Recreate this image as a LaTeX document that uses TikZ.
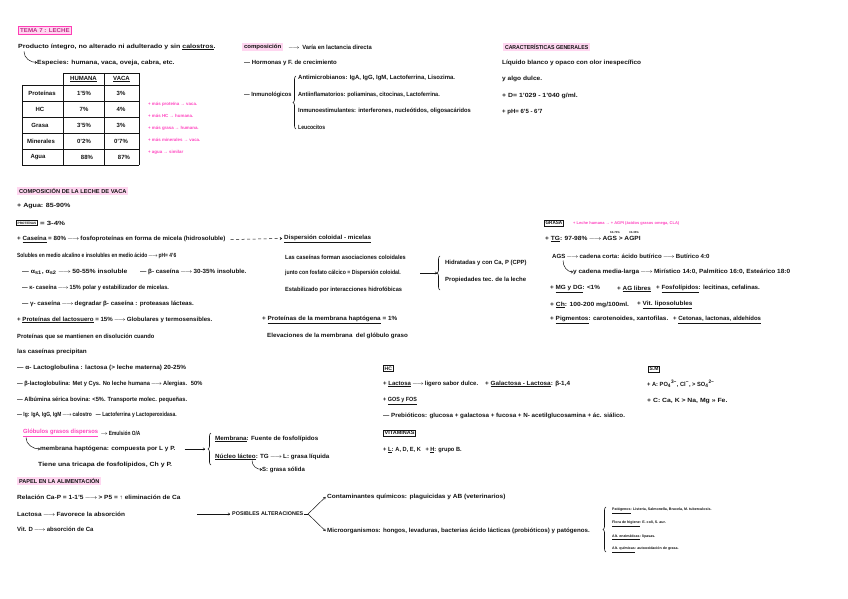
\documentclass[tikz,border=0pt]{standalone}
\usepackage{fontspec}
\usepackage{graphicx}
\setmainfont{Liberation Sans}
\usetikzlibrary{arrows.meta,decorations.pathreplacing,calc}
\definecolor{pinkfill}{HTML}{FFD6F0}
\definecolor{pinkline}{HTML}{FF3DB5}
\definecolor{pinktxt}{HTML}{FF45C0}
\definecolor{ink}{HTML}{141414}
\newcommand\fmain{\fontsize{6}{7}\selectfont\bfseries}
\newcommand\fsml{\fontsize{3.6}{4.2}\selectfont\bfseries}
\newcommand\fpnk{\fontsize{4.4}{5}\selectfont\bfseries}
\newcommand\fttl{\fontsize{5.7}{6.5}\selectfont\bfseries}
\newcommand\fbxx{\fontsize{5}{6}\selectfont\bfseries}
\newcommand\rar{\,$\longrightarrow$\,}
\newcommand\sar{\,$\rightarrow$\,}
\newcommand\myul[1]{\underline{#1}}
\newcommand\sxx[2]{\scalebox{#1}[1]{#2}}
\tikzset{
 txt/.style={anchor=west, inner sep=0pt, font=\fmain, text=ink},
 txs/.style={txt, font=\fsml},
 pnk/.style={txt, font=\fpnk, text=pinktxt},
 ttl/.style={anchor=west, inner sep=1.8pt, fill=pinkfill, font=\fttl, text=ink},
 bxx/.style={anchor=west, draw=ink, line width=0.7pt, inner sep=1.3pt, font=\fbxx, text=ink},
 arw/.style={-{To[length=2.2pt,width=2.8pt]}, line width=0.5pt, draw=ink},
 brc/.style={decorate, decoration={brace, amplitude=3pt}, line width=0.6pt, draw=ink},
 cel/.style={inner sep=0pt, font=\fmain, text=ink},
}
\begin{document}
\begin{tikzpicture}[x=1pt,y=-1pt]
\fill[white] (0,0) rectangle (848,599);
\useasboundingbox (0,0) rectangle (848,599);

% ---------- top left
\node[ttl, draw=pinkline, line width=0.8pt, text=pinkline!75!black] (tema) at (18,30.5) {\sxx{1.08}{TEMA 7 : LECHE}};
\node[txt] (prod) at (18,47) {\sxx{1.17}{Producto íntegro, no alterado ni adulterado y sin \myul{calostros}.}};
\node[txt] (esp) at (37,62.5) {\sxx{1.13}{Especies: humana, vaca, oveja, cabra, etc.}};
\draw[arw] (24,51.5) to[out=-90,in=180] (esp.west);

% table
\draw[line width=0.9pt, ink] (63,73) -- (139,73);
\foreach \y in {85,101,117,133,149,165} \draw[line width=0.9pt, ink] (22,\y) -- (139,\y);
\draw[line width=0.9pt, ink] (22,85) -- (22,165);
\foreach \x in {63,104,139} \draw[line width=0.9pt, ink] (\x,73) -- (\x,165);
\node[cel] (hh) at (83.5,79) {\myul{HUMANA}};
\node[cel] (hv) at (121.5,79) {\myul{VACA}};
\node[cel] (r1) at (42,93) {Proteínas};
\node[cel] (r2) at (40,109) {HC};
\node[cel] (r3) at (40,125) {Grasa};
\node[cel] (r4) at (41,141) {Minerales};
\node[cel] (r5) at (38,157) {Agua};
\node[cel] (h1) at (84,93) {1'5\%};
\node[cel] (h2) at (84,109) {7\%};
\node[cel] (h3) at (84,125) {3'5\%};
\node[cel] (h4) at (84,141) {0'2\%};
\node[cel] (h5) at (87,157) {88\%};
\node[cel] (v1) at (121,93) {3\%};
\node[cel] (v2) at (121,109) {4\%};
\node[cel] (v3) at (121,125) {3\%};
\node[cel] (v4) at (121,141) {0'7\%};
\node[cel] (v5) at (124,157) {87\%};

\node[pnk] (p1) at (148,104) {+ más proteína → vaca.};
\node[pnk] (p2) at (148,116) {+ más HC → humana.};
\node[pnk] (p3) at (148,128) {+ más grasa → humana.};
\node[pnk] (p4) at (148,140) {+ más minerales → vaca.};
\node[pnk] (p5) at (148,152) {+ agua → similar};

% ---------- composicion
\node[ttl] (comp) at (242,47) {\sxx{1.06}{composición}};
\node[txt] (compa) at (288,47) {\sxx{0.97}{$\longrightarrow$\, Varía en lactancia directa}};
\node[txt] (horm) at (244,62.5) {— Hormonas y F. de crecimiento};
\node[txt] (inmu) at (244,95) {\sxx{0.94}{— Inmunológicos}};
\draw[brc] (296,129) -- (296,76);
\node[txt] (i1) at (298,78) {Antimicrobianos: IgA, IgG, IgM, Lactoferrina, Lisozima.};
\node[txt] (i2) at (298,94.5) {\sxx{0.92}{Antiinflamatorios: poliaminas, citocinas, Lactoferrina.}};
\node[txt] (i3) at (298,111) {\sxx{0.96}{Inmunoestimulantes: interferones, nucleótidos, oligosacáridos}};
\node[txt] (i4) at (298,127) {\sxx{0.85}{Leucocitos}};

% ---------- caracteristicas
\node[ttl] (carac) at (503,47) {\sxx{0.91}{CARACTERÍSTICAS GENERALES}};
\node[txt] (c1) at (502,63) {\sxx{1.08}{Líquido blanco y opaco con olor inespecífico}};
\node[txt] (c2) at (502,79) {\sxx{1.1}{y algo dulce.}};
\node[txt] (c3) at (502,96) {\sxx{1.15}{+ D= 1'029 - 1'040 g/ml.}};
\node[txt] (c4) at (502,112) {+ pH= 6'5 - 6'7};

% ---------- composicion leche de vaca
\node[ttl] (clv) at (17,191) {COMPOSICIÓN DE LA LECHE DE VACA};
\node[txt] (agua) at (17,206) {\sxx{1.18}{+ Agua: 85-90\%}};
\node[bxx, font=\fontsize{3.2}{4}\selectfont\bfseries] (prot) at (16,223) {PROTEÍNAS};
\node[txt] (prot2) at ([xshift=2pt]prot.east) {\sxx{1.3}{= 3-4\%}};
\node[txt] (cas) at (17,239.5) {\sxx{1.04}{+ \myul{Caseína} = 80\%\rar fosfoproteínas en forma de micela (hidrosoluble)}};
\node[txt] (disp) at (284,238.5) {\sxx{1.05}{\myul{Dispersión coloidal - micelas}}};
\draw[arw, dashed, dash pattern=on 3pt off 2.5pt] ([xshift=5pt]cas.east) -- ([xshift=-2pt]disp.west);
\node[txt] (sol) at (17,256) {\sxx{0.82}{Solubles en medio alcalino e insolubles en medio ácido\rar pH= 4'6}};
\node[txt] (as1) at (22,272) {\sxx{1.13}{— α\textsubscript{s1}, α\textsubscript{s2}\rar 50-55\% insoluble}};
\node[txt] (as2) at (140,272) {\sxx{1.05}{— β- caseína\rar 30-35\% insoluble.}};
\node[txt] (kc) at (22,288) {\sxx{0.94}{— κ- caseína\rar 15\% polar y estabilizador de micelas.}};
\node[txt] (gc) at (22,304) {\sxx{1.04}{— γ- caseína\rar degradar β- caseína : proteasas lácteas.}};
\node[txt] (lsu) at (17,320) {\sxx{1.02}{+ \myul{Proteínas del lactosuero} = 15\%\rar Globulares y termosensibles.}};
\node[txt] (pq) at (17,337) {\sxx{0.96}{Proteínas que se mantienen en disolución cuando}};
\node[txt] (lcp) at (17,352) {\sxx{1.06}{las caseínas precipitan}};
\node[txt] (alb) at (17,368) {\sxx{1.07}{— α- Lactoglobulina : lactosa (> leche materna) 20-25\%}};
\node[txt] (blg) at (17,384) {\sxx{0.95}{— β-lactoglobulina: Met y Cys. No leche humana\rar Alergias. \ 50\%}};
\node[txt] (asb) at (17,400) {\sxx{0.95}{— Albúmina sérica bovina: <5\%. Transporte molec. pequeñas.}};
\node[txt] (igs) at (17,415) {\sxx{0.82}{— Ig: IgA, IgG, IgM\rar calostro \ \ — Lactoferrina y Lactoperoxidasa.}};

% middle
\node[txt] (m1) at (285,257) {\sxx{0.93}{Las caseínas forman asociaciones coloidales}};
\node[txt] (m2) at (285,273) {\sxx{0.86}{junto con fosfato cálcico = Dispersión coloidal.}};
\node[txt] (m3) at (285,290) {\sxx{0.94}{Estabilizado por interacciones hidrofóbicas}};
\coordinate (mb) at (437,273);
\draw[arw] ([xshift=19pt]m2.east) -- (mb);
\draw[brc] (440,290) -- (440,256);
\node[txt] (m4) at (445,263) {\sxx{0.98}{Hidratadas y con Ca, P (CPP)}};
\node[txt] (m5) at (445,280) {Propiedades tec. de la leche};
\node[txt] (mh) at (262,320) {\sxx{1.06}{+ \myul{Proteínas de la membrana haptógena} = 1\%}};
\node[txt] (mh2) at (267,336) {\sxx{1.04}{Elevaciones de la membrana \ del glóbulo graso}};

% ---------- grasa
\node[bxx] (grasa) at (544,223) {\sxx{0.92}{GRASA}};
\node[pnk, font=\fontsize{4}{4.5}\selectfont\bfseries] (gp) at (573,223) {+ Leche humana → + AGPI (ácidos grasos omega, CLA)};
\node[txt] (tg) at (545,239) {\sxx{1.1}{+ \myul{TG}: 97-98\%\rar AGS > AGPI}};
\node[txs, font=\fontsize{2.8}{3}\selectfont\bfseries] (s1) at (610,233) {60-70\%};
\node[txs, font=\fontsize{2.8}{3}\selectfont\bfseries] (s2) at (629,233) {30-35\%};
\node[txt] (ags) at (552,256) {\sxx{1.02}{AGS\rar cadena corta: ácido butírico\rar Butírico 4:0}};
\node[txt] (cml) at (573,272) {\sxx{1.08}{y cadena media-larga\rar Mirístico 14:0, Palmítico 16:0, Esteárico 18:0}};
\draw[arw] (563,260.5) to[out=-90,in=180] (cml.west);
\node[txt] (mg) at (550,289) {\sxx{1.06}{+ \myul{MG y DG}: <1\%}};
\node[txt] (agl) at (617,289) {\sxx{1.06}{+ \myul{AG libres}}};
\node[txt] (fos) at (656,289) {\sxx{1.04}{+ \myul{Fosfolípidos}: lecitinas, cefalinas.}};
\node[txt] (ch) at (550,305) {\sxx{1.12}{+ \myul{Ch}: 100-200 mg/100ml.}};
\node[txt] (vit) at (637,305) {\sxx{1.07}{+ \myul{Vit. liposolubles}}};
\node[txt] (pig) at (550,320) {\sxx{1.07}{+ \myul{Pigmentos}: carotenoides, xantofilas.}};
\node[txt] (cet) at (673,320) {+ \myul{Cetonas, lactonas, aldehídos}};

% ---------- HC
\node[bxx] (hc) at (383,368.5) {HC};
\node[txt] (hc1) at (383,384) {\sxx{1.0}{+ \myul{Lactosa}\rar ligero sabor dulce.}};
\node[txt] (hc2) at (485,384) {\sxx{1.06}{+ \myul{Galactosa - Lactosa}: β-1,4}};
\node[txt] (hc3) at (383,401) {\sxx{0.9}{+ \myul{GOS y FOS}}};
\node[txt] (hc4) at (383,416) {\sxx{1.04}{— Prebióticos: glucosa + galactosa + fucosa + N- acetilglucosamina + ác. siálico.}};
\node[bxx] (vita) at (383,433) {\sxx{1.1}{VITAMINAS}};
\node[txt] (vit1) at (383,450) {\sxx{0.94}{+ \myul{L}: A, D, E, K \ \ + \myul{H}: grupo B.}};

% ---------- S.M
\node[bxx] (sm) at (648,369) {S.M};
\node[txt] (sm1) at (647,384) {\sxx{0.95}{+ A: PO\textsubscript{4}\textsuperscript{3−}, Cl\textsuperscript{−}, > SO\textsubscript{4}\textsuperscript{2−}}};
\node[txt] (sm2) at (647,401) {\sxx{1.14}{+ C: Ca, K > Na, Mg >> Fe.}};

% ---------- globulos
\node[txt, text=pinktxt] (glo) at (23,433) {\sxx{0.97}{\myul{Glóbulos grasos dispersos}}};
\node[txt] (emu) at ([xshift=1pt]glo.east) {\sar\sxx{0.8}{Emulsión O/A}};
\node[txt] (mem) at (40,449) {\sxx{1.07}{membrana haptógena: compuesta por L y P.}};
\draw[arw] (26,437.5) to[out=-90,in=180] (mem.west);
\node[txt] (tri) at (38,465) {\sxx{1.15}{Tiene una tricapa de fosfolípidos, Ch y P.}};
\coordinate (mbr) at (205,449);
\draw[arw] ([xshift=9pt]mem.east) -- (mbr);
\draw[brc] (211,465) -- (211,433);
\node[txt] (mmb) at (215,439) {\sxx{1.05}{\myul{Membrana}: Fuente de fosfolípidos}};
\node[txt] (nuc) at (215,457) {\sxx{1.04}{\myul{Núcleo lácteo}: TG\rar L: grasa líquida}};
\node[txt] (sol2) at (262,469.5) {S: grasa sólida};
\draw[arw] (252,460.5) to[out=-90,in=180] (sol2.west);

% ---------- papel
\node[ttl] (papel) at (17,481) {\sxx{0.98}{PAPEL EN LA ALIMENTACIÓN}};
\node[txt] (rel) at (17,497) {\sxx{1.09}{Relación Ca-P = 1-1'5\rar > P5 = ↑ eliminación de Ca}};
\node[txt] (lac) at (17,514) {\sxx{1.08}{Lactosa\rar Favorece la absorción}};
\node[txt] (vd) at (17,529) {Vit. D\rar absorción de Ca};
\node[txt, font=\fontsize{5.4}{6}\selectfont\bfseries] (pos) at (232,514) {POSIBLES ALTERACIONES};
\draw[arw] (197,514) -- ([xshift=-2pt]pos.west);
\coordinate (vtx) at (308,514);
\node[txt] (cq) at (327,497) {\sxx{1.09}{Contaminantes químicos: plaguicidas y AB (veterinarios)}};
\node[txt] (mo) at (327,531) {\sxx{1.03}{Microorganismos: hongos, levaduras, bacterias ácido lácticas (probióticos) y patógenos.}};
\draw[line width=0.5pt, ink] ([xshift=1pt]pos.east) -- (vtx);
\draw[arw] (vtx) -- ([xshift=-1.5pt]cq.west);
\draw[arw] (vtx) -- ([xshift=-1.5pt]mo.west);
\draw[brc] (606,552) -- (606,507);
\node[txs] (pt1) at (612,511) {\myul{Patógenos}: Listeria, Salmonella, Brucela, M. tuberculosis.};
\node[txs] (pt2) at (612,524) {\myul{Flora de higiene}: E. coli, S. aur.};
\node[txs] (pt3) at (612,537) {\myul{Alt. enzimáticas}: lipasas.};
\node[txs] (pt4) at (612,550) {\myul{Alt. químicas}: autooxidación de grasa.};
\end{tikzpicture}
\end{document}
